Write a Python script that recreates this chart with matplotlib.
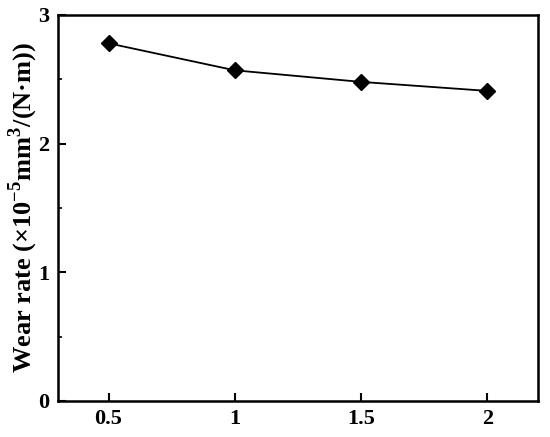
import matplotlib
matplotlib.use("Agg")
import matplotlib.pyplot as plt
from matplotlib.ticker import MultipleLocator

plt.rcParams['font.family'] = ['Liberation Serif', 'DejaVu Serif']
plt.rcParams['font.weight'] = 'bold'
plt.rcParams['mathtext.fontset'] = 'custom'
plt.rcParams['mathtext.rm'] = 'Liberation Serif:bold'
plt.rcParams['mathtext.bf'] = 'Liberation Serif:bold'

# data
load = [0.5, 1, 1.5, 2]
wear_rate = [2.78, 2.57, 2.48, 2.41]
x_ticks = [0.5, 1, 1.5, 2]
x_tick_labels = ['0.5', '1', '1.5', '2']
y_ticks = [0, 1, 2, 3]

fig = plt.figure(figsize=(5.5, 4.37), dpi=100)
ax = fig.add_axes([0.1055, 0.0824, 0.8725, 0.8833])

ax.plot(load, wear_rate, color='black', linewidth=1.3, marker='D',
        markersize=8, markerfacecolor='black', markeredgecolor='black')

ax.set_xlim(0.3, 2.2)
ax.set_ylim(0, 3)
ax.set_xticks(x_ticks)
ax.set_xticklabels(x_tick_labels)
ax.set_yticks(y_ticks)
ax.yaxis.set_minor_locator(MultipleLocator(0.5))

ax.tick_params(axis='both', which='major', direction='in', length=6, width=1.5,
               labelsize=16, pad=6)
ax.tick_params(axis='y', which='minor', direction='in', length=3, width=1.2)

for sp in ax.spines.values():
    sp.set_linewidth(1.8)

ax.set_ylabel(r'Wear rate (×10$^{-5}$mm$^{3}$/(N·m))', fontsize=19,
              fontweight='bold', labelpad=-1)

fig.savefig('out.png', dpi=100)
